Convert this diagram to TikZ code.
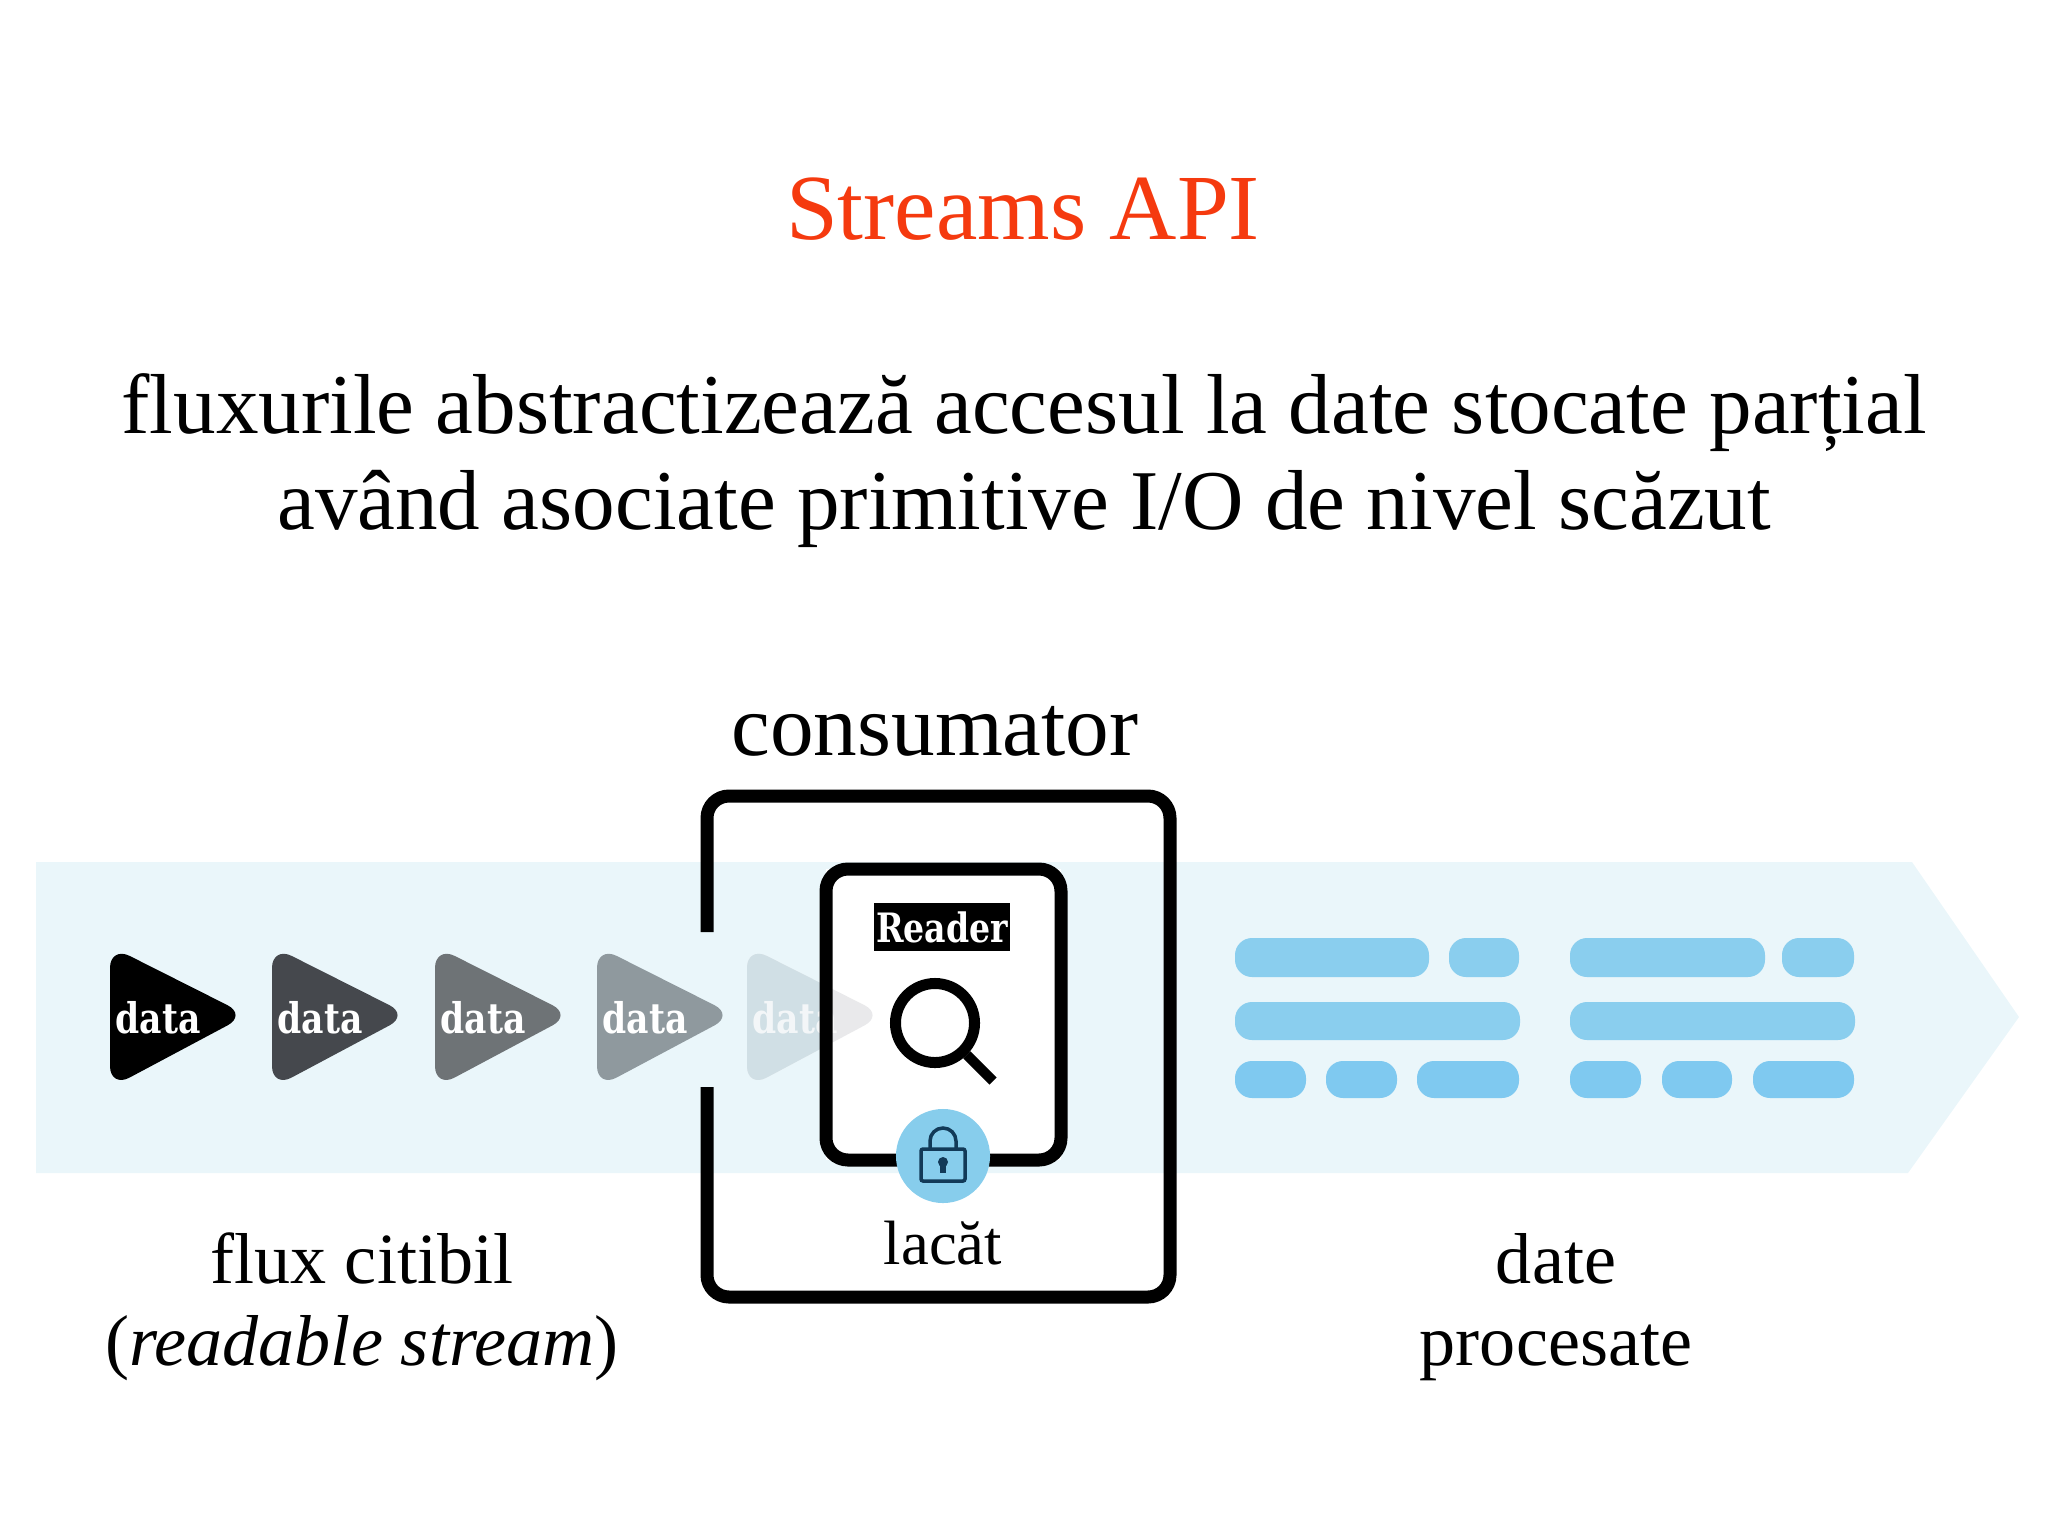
\documentclass[tikz,border=0pt]{standalone}
\usepackage{fontspec}
\setmainfont{Liberation Serif}
\newfontfamily\slabfont[FakeStretch=0.82]{DejaVu Serif}
\usepackage{tikz}
\definecolor{bandblue}{HTML}{EAF6FA}
\definecolor{barblue}{HTML}{8ACEEE}
\definecolor{lowblue}{HTML}{7FC9F0}
\definecolor{titlered}{HTML}{F53A0F}
\definecolor{lockblue}{HTML}{87CDEC}
\definecolor{locknavy}{HTML}{123A58}
\tikzstyle{caption}=[anchor=base,inner sep=0pt,font=\fontsize{20.5}{25}\selectfont]
\tikzstyle{bodyline}=[anchor=base,inner sep=0pt,font=\fontsize{24.2}{29}\selectfont]
\tikzstyle{tokenlabel}=[inner sep=0pt,text=white,font=\slabfont\bfseries\fontsize{12}{14}\selectfont]
\tikzstyle{token}=[rounded corners=0.22cm]
\tikzstyle{bar}=[rounded corners=0.17cm]
\tikzstyle{heavyline}=[draw=black,line width=0.13cm,rounded corners=0.22cm]

\begin{document}
\begin{tikzpicture}[x=0.01cm,y=-0.01cm]
\useasboundingbox (0,0) rectangle (2048,1536);

%Band
\fill[bandblue] (36,862) -- (1912,862) -- (2019,1017) -- (1908,1173) -- (36,1173) -- cycle;

%Texts
\node[anchor=base,inner sep=0pt,text=titlered,font=\fontsize{26.5}{32}\selectfont] (title) at (1023,239) {Streams API};
\node[bodyline] (lineone) at (1024,433) {fluxurile abstractizează accesul la date stocate parțial};
\node[bodyline] (linetwo) at (1024,529) {având asociate primitive I/O de nivel scăzut};
\node[anchor=base,inner sep=0pt,font=\fontsize{24.8}{30}\selectfont] (consumer) at (935,755) {consumator};
\node[caption] (flux) at (362,1283) {flux citibil};
\node[caption] (readable) at (362,1365) {(\textit{readable stream})};
\node[caption] (date) at (1556,1283) {date};
\node[caption] (processed) at (1556,1365) {procesate};
\node[anchor=base,inner sep=0pt,font=\fontsize{17.8}{22}\selectfont] (padlock) at (943,1264) {lacăt};

%Tokens
\foreach \x/\col/\name in {110/000000/a, 272/45484D/b, 435/6E7376/c, 597/8F999E/d}
{
    \definecolor{tokencol}{HTML}{\col}
    \fill[token,tokencol] (\x,946) -- (\x+137,1015) -- (\x,1088) -- cycle;
    \node[tokenlabel] (\name) at (\x+48,1018) {data};
}

%Reader box background
\fill[white] (826,869) rectangle (1061,1160);

%Faded token
\definecolor{fadeone}{HTML}{D0DFE5}
\definecolor{fadetwo}{HTML}{E9E9EB}
\fill[token,fadetwo] (747,946) -- (884,1015) -- (747,1088) -- cycle;
\begin{scope}
    \clip (700,900) rectangle (826,1120);
    \fill[token,fadeone] (747,946) -- (884,1015) -- (747,1088) -- cycle;
\end{scope}
\node[tokenlabel,text opacity=0.75] (e) at (795,1018) {data};

%Outer box
\draw[heavyline] (707,932) -- (707,796) -- (1170,796) -- (1170,1297) -- (707,1297) -- (707,1087);
%Reader box
\draw[heavyline] (826,869) rectangle (1061,1160);

\node[fill=black,text=white,inner sep=0pt,minimum width=1.35cm,minimum height=0.48cm,font=\slabfont\bfseries\fontsize{11.5}{14}\selectfont] (reader) at (942,927) {Reader};

%Magnifier
\node[circle,draw=black,line width=0.11cm,minimum size=0.79cm,inner sep=0pt] (glass) at (935,1023) {};
\coordinate (handle) at (993,1081);
\draw[black,line width=0.1cm] (glass.-45) -- (handle);

%Lock
\node[circle,fill=lockblue,minimum size=0.94cm,inner sep=0pt] (lock) at (943,1156) {};
\draw[locknavy,line width=0.035cm,rounded corners=0.02cm] (921,1149) rectangle (965,1181);
\draw[locknavy,line width=0.035cm] (930,1149) -- (930,1141) arc (180:360:13) -- (956,1149);
\fill[locknavy] (943,1162) circle (5);
\fill[locknavy] (940,1163) rectangle (946,1173);

%Bars
\foreach \xa/\xb/\ya/\yb in {1235/1429/938/977, 1449/1519/938/977, 1235/1520/1002/1040,
    1570/1765/938/977, 1782/1854/938/977, 1570/1855/1002/1040}
    \fill[bar,barblue] (\xa,\ya) rectangle (\xb,\yb);
\foreach \xa/\xb in {1235/1306, 1326/1397, 1417/1519, 1570/1641, 1662/1732, 1753/1854}
    \fill[bar,lowblue] (\xa,1061) rectangle (\xb,1098);

\end{tikzpicture}
\end{document}
